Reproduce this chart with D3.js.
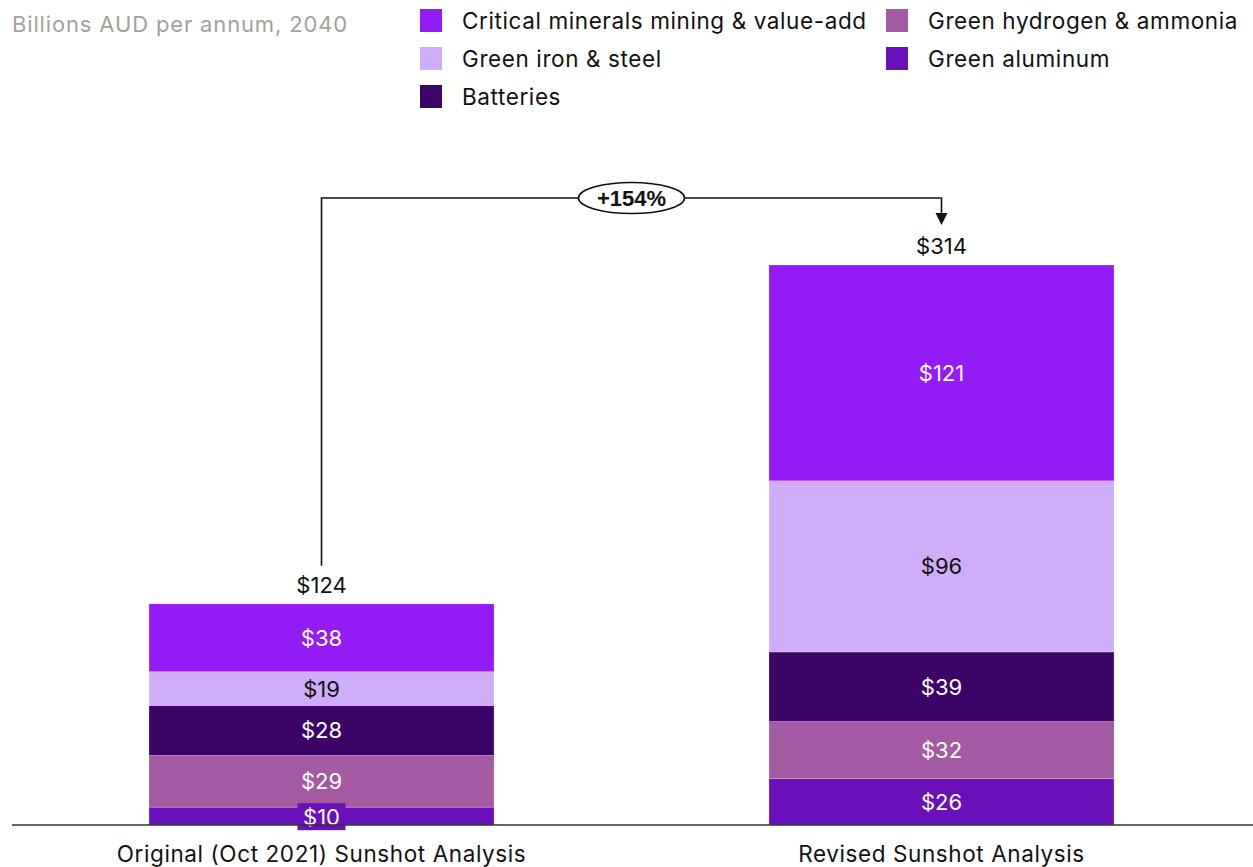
<!DOCTYPE html>
<html><head><meta charset="utf-8">
<script src="https://cdn.jsdelivr.net/npm/d3@7"></script>
<style>body{margin:0;background:#fff}svg{display:block}text{font-family:Inter,"Noto Sans",sans-serif}</style>
</head><body><svg id="c" width="1253" height="867"></svg>
<script>
const categories = ["Original (Oct 2021) Sunshot Analysis", "Revised Sunshot Analysis"];
const seriesNames = ["Green aluminum", "Green hydrogen & ammonia", "Batteries", "Green iron & steel", "Critical minerals mining & value-add"];
const greenAluminum = [10, 26];
const greenHydrogen = [29, 32];
const batteries = [28, 39];
const greenIron = [19, 96];
const criticalMinerals = [38, 121];
const totals = [124, 314];
const changeLabel = "+154%";
const unitLabel = "Billions AUD per annum, 2040";
const legendOrder = ["Critical minerals mining & value-add", "Green hydrogen & ammonia", "Green iron & steel", "Green aluminum", "Batteries"];

const colors = {
  "Critical minerals mining & value-add": "#931bf6",
  "Green iron & steel": "#d0adf9",
  "Batteries": "#3c0467",
  "Green hydrogen & ammonia": "#a45aa2",
  "Green aluminum": "#6a10ba"
};
const labelColor = {"Green iron & steel": "#111"};

const seriesVals = [greenAluminum, greenHydrogen, batteries, greenIron, criticalMinerals];
const rows = categories.map((c, i) => {
  const o = {cat: c};
  seriesNames.forEach((s, j) => o[s] = seriesVals[j][i]);
  return o;
});
const stacked = d3.stack().keys(seriesNames)(rows);

const svg = d3.select("#c");
const x = d3.scaleBand().domain(categories).range([11.5, 1251.5]).paddingInner(0.4435).paddingOuter(0.2218);
const y = d3.scaleLinear().domain([0, 314]).range([825, 265]);

// title
svg.append("text").attr("x", 12).attr("y", 32).attr("font-size", 22).attr("letter-spacing", 0.85).attr("fill", "#a3a19a").text(unitLabel);

// legend
const lg = svg.append("g");
legendOrder.forEach((name, i) => {
  const col = i % 2, row = Math.floor(i / 2);
  const gx = col === 0 ? 420 : 886, gy = 9 + row * 38;
  lg.append("rect").attr("x", gx).attr("y", gy).attr("width", 22).attr("height", 23).attr("fill", colors[name]);
  lg.append("text").attr("x", gx + 42).attr("y", gy + 20).attr("font-size", 22.5).attr("letter-spacing", 0.6).attr("fill", "#111").text(name);
});

// bars
const g = svg.append("g");
stacked.forEach(layer => {
  const name = layer.key;
  layer.forEach((d, i) => {
    const cat = categories[i];
    g.append("rect").attr("x", x(cat)).attr("width", x.bandwidth())
      .attr("y", y(d[1])).attr("height", y(d[0]) - y(d[1]))
      .attr("fill", colors[name]).attr("stroke", "rgba(255,255,255,0.25)").attr("stroke-width", 0.8);
  });
});
stacked.forEach(layer => {
  const name = layer.key;
  layer.forEach((d, i) => {
    const cat = categories[i];
    const cx = x(cat) + x.bandwidth() / 2;
    const cy = (y(d[0]) + y(d[1])) / 2;
    const v = d[1] - d[0];
    const h = y(d[0]) - y(d[1]);
    if (h < 26) {
      svg.append("rect").attr("x", cx - 24).attr("y", y(d[1]) - 4).attr("width", 48).attr("height", 27).attr("fill", colors[name]);
    }
    svg.append("text").attr("x", cx).attr("y", h < 26 ? y(d[1]) + 18 : cy + 8)
      .attr("text-anchor", "middle").attr("font-size", 22)
      .attr("fill", labelColor[name] || "#fff").text("$" + v);
  });
});

// axis
svg.append("line").attr("x1", 12).attr("x2", 1253).attr("y1", y(0)).attr("y2", y(0)).attr("stroke", "#333").attr("stroke-width", 1.5);
const ax = d3.axisBottom(x).tickSize(0).tickPadding(0);
const axg = svg.append("g").attr("transform", `translate(0,${y(0)})`).call(ax);
axg.select(".domain").remove();
axg.selectAll("text").attr("font-size", 22.5).attr("letter-spacing", 0.6).attr("fill", "#111").attr("dy", 0).attr("y", 37).style("font-family", "Inter,'Noto Sans',sans-serif");

// totals
totals.forEach((t, i) => {
  svg.append("text").attr("x", x(categories[i]) + x.bandwidth() / 2).attr("y", y(t) - 11)
    .attr("text-anchor", "middle").attr("font-size", 22).attr("fill", "#111").text("$" + t);
});

// connector
const x0 = x(categories[0]) + x.bandwidth() / 2, x1 = x(categories[1]) + x.bandwidth() / 2;
const topY = 198;
svg.append("path").attr("d", `M${x0},${y(totals[0]) - 38}V${topY}H${x1}V${y(totals[1]) - 48}`)
  .attr("fill", "none").attr("stroke", "#111").attr("stroke-width", 1.6);
svg.append("path").attr("d", `M${x1 - 6},${y(totals[1]) - 52}L${x1 + 6},${y(totals[1]) - 52}L${x1},${y(totals[1]) - 40}Z`).attr("fill", "#111");
const mx = (x0 + x1) / 2;
svg.append("ellipse").attr("cx", mx).attr("cy", topY).attr("rx", 53).attr("ry", 15.5).attr("fill", "#fff").attr("stroke", "#111").attr("stroke-width", 1.6);
svg.append("text").attr("x", mx).attr("y", topY + 8).attr("text-anchor", "middle").attr("font-size", 22)
  .attr("font-weight", "bold").style("font-family", "'Liberation Sans Narrow','Arial Narrow',sans-serif").attr("fill", "#111").text(changeLabel);
</script></body></html>
